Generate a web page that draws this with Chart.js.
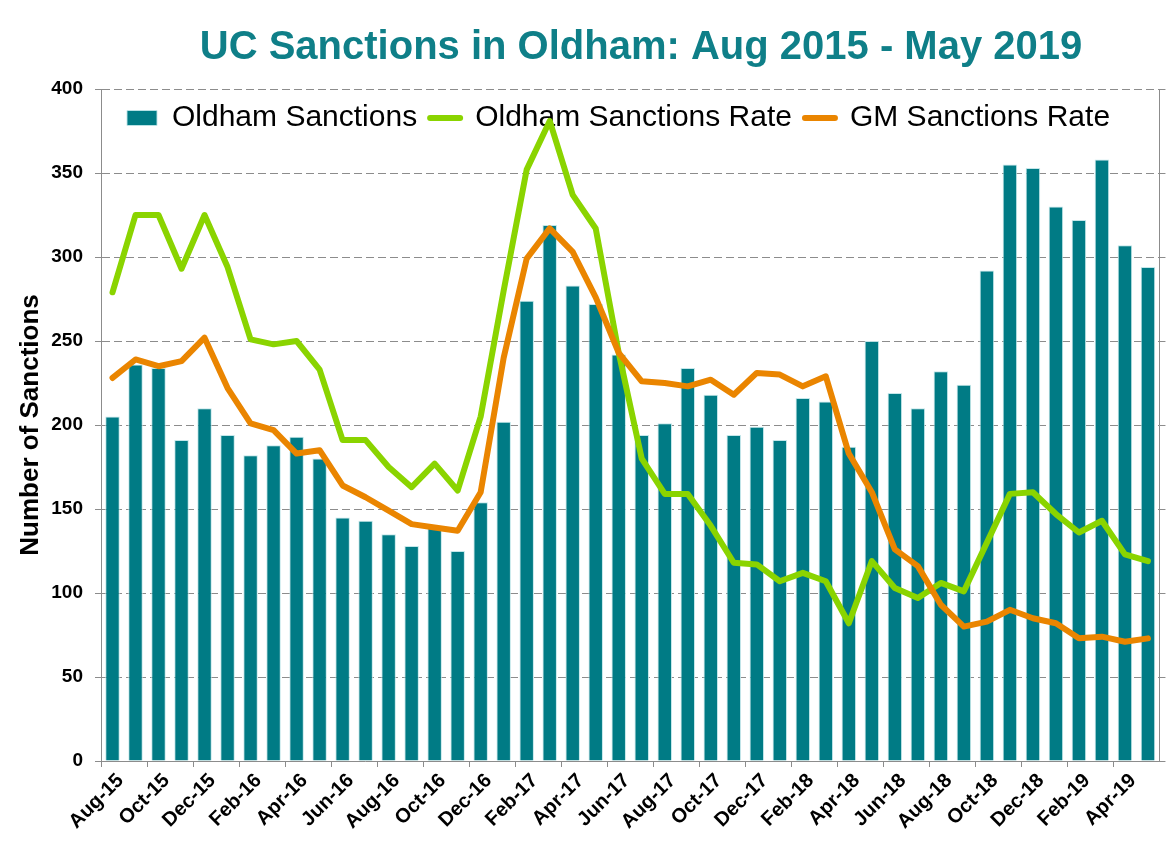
<!DOCTYPE html>
<html>
<head>
<meta charset="utf-8">
<title>UC Sanctions in Oldham</title>
<script src="https://cdn.jsdelivr.net/npm/chart.js@4.4.1/dist/chart.umd.min.js"></script>
<style>
  html, body { margin: 0; padding: 0; background: #fff; }
</style>
</head>
<body>
<canvas id="chart" width="1167" height="854"></canvas>
<script>
// Months, Aug 2015 - May 2019
const months = [
  "Aug-15", "Sep-15", "Oct-15", "Nov-15", "Dec-15",
  "Jan-16", "Feb-16", "Mar-16", "Apr-16", "May-16", "Jun-16", "Jul-16", "Aug-16", "Sep-16", "Oct-16", "Nov-16", "Dec-16",
  "Jan-17", "Feb-17", "Mar-17", "Apr-17", "May-17", "Jun-17", "Jul-17", "Aug-17", "Sep-17", "Oct-17", "Nov-17", "Dec-17",
  "Jan-18", "Feb-18", "Mar-18", "Apr-18", "May-18", "Jun-18", "Jul-18", "Aug-18", "Sep-18", "Oct-18", "Nov-18", "Dec-18",
  "Jan-19", "Feb-19", "Mar-19", "Apr-19", "May-19",
];

const oldhamSanctions = [
  205, 236, 234, 191, 210, 194, 182, 188, 193, 180,
  145, 143, 135, 128, 139, 125, 154, 202, 274, 319,
  283, 272, 242, 194, 201, 234, 218, 194, 199, 191,
  216, 214, 187, 250, 219, 210, 232, 224, 292, 355,
  353, 330, 322, 358, 307, 294,
];

const oldhamRate = [
  279, 325, 325, 293, 325, 294, 251, 248, 250, 233,
  191, 191, 175, 163, 177, 161, 205, 280, 352, 381,
  337, 317, 243, 180, 159, 159, 140, 118, 117, 107,
  112, 107, 82, 119, 103, 97, 106, 101, 130, 159,
  160, 147, 136, 143, 123, 119,
];

const gmRate = [
  228, 239, 235, 238, 252, 222, 201, 197, 183, 185,
  164, 157, 149, 141, 139, 137, 160, 240, 299, 317,
  303, 276, 243, 226, 225, 223, 227, 218, 231, 230,
  223, 229, 183, 160, 126, 116, 93, 80, 83, 90,
  85, 82, 73, 74, 71, 73,
];

const yMin = 0;
const yMax = 400;
const yStep = 50;

const FONT = "'Liberation Sans', Arial, sans-serif";
const TEAL = "#007b85";
const GREEN = "#8ad400";
const ORANGE = "#ea8500";
const GRID = "#8c8c8c";

// Move title and legend into place once the layout is done
const placeBoxes = {
  id: "placeBoxes",
  afterLayout(chart) {
    const t = chart.titleBlock;
    const dx = 641 - (t.left + t.right) / 2;
    t.left += dx;
    t.right += dx;

    const lg = chart.legend;
    const pad = lg.options.labels.padding;
    lg.left = 127 - pad;
    lg.right = lg.left + 1100;
    lg.top = 118 - 15 - pad;
    lg.bottom = lg.top + 60;
  },
};

const ctx = document.getElementById("chart").getContext("2d");

new Chart(ctx, {
  type: "bar",
  data: {
    labels: months,
    datasets: [
      {
        type: "bar",
        label: "Oldham Sanctions",
        data: oldhamSanctions,
        backgroundColor: TEAL,
        borderColor: "rgba(190, 228, 232, 0.9)",
        borderWidth: 1,
        barPercentage: 0.63,
        categoryPercentage: 1,
        pointStyle: "rect",
        order: 3,
      },
      {
        type: "line",
        label: "Oldham Sanctions Rate",
        data: oldhamRate,
        borderColor: GREEN,
        backgroundColor: GREEN,
        borderWidth: 6,
        borderJoinStyle: "round",
        borderCapStyle: "round",
        tension: 0,
        pointRadius: 0,
        pointStyle: "line",
        pointBorderColor: GREEN,
        pointBorderWidth: 6,
        order: 2,
      },
      {
        type: "line",
        label: "GM Sanctions Rate",
        data: gmRate,
        borderColor: ORANGE,
        backgroundColor: ORANGE,
        borderWidth: 6,
        borderJoinStyle: "round",
        borderCapStyle: "round",
        tension: 0,
        pointRadius: 0,
        pointStyle: "line",
        pointBorderColor: ORANGE,
        pointBorderWidth: 6,
        order: 1,
      },
    ],
  },
  options: {
    responsive: false,
    animation: false,
    layout: { padding: { top: 0, left: 0, right: 0, bottom: 0 } },
    scales: {
      x: {
        offset: true,
        afterFit: (s) => { s.height = 93; },
        grid: {
          offset: true,
          drawOnChartArea: false,
          drawTicks: true,
          tickLength: 6,
          color: (c) => (c.index % 2 === 0 ? GRID : "rgba(0,0,0,0)"),
        },
        border: { color: GRID, width: 1 },
        ticks: {
          autoSkip: false,
          maxRotation: 45,
          minRotation: 45,
          padding: 2,
          labelOffset: 8,
          color: "#000",
          font: { family: FONT, size: 20, weight: "bold" },
          callback: (v, i) => (i % 2 === 0 ? months[i] : ""),
        },
      },
      y: {
        min: yMin,
        max: yMax,
        afterFit: (s) => { s.width = 101; },
        ticks: {
          stepSize: yStep,
          padding: 12,
          color: "#000",
          font: { family: FONT, size: 19, weight: "bold" },
        },
        grid: {
          color: GRID,
          lineWidth: 1,
          tickLength: 6,
          tickBorderDash: [],
        },
        border: { color: GRID, width: 1, dash: [8, 4] },
        title: {
          display: true,
          text: "Number of Sanctions",
          color: "#000",
          font: { family: FONT, size: 26, weight: "bold" },
          padding: { top: 15, bottom: 0 },
        },
      },
      y1: {
        position: "right",
        min: yMin,
        max: yMax,
        afterFit: (s) => { s.width = 7; },
        ticks: { stepSize: yStep, display: false },
        grid: { drawOnChartArea: false, color: GRID, tickLength: 6 },
        border: { color: GRID, width: 1 },
      },
    },
    plugins: {
      title: {
        display: true,
        text: "UC Sanctions in Oldham: Aug 2015 - May 2019",
        color: "#0f7f88",
        font: { family: FONT, size: 40, weight: "bold", lineHeight: 1.2 },
        padding: { top: 24, bottom: 16 },
      },
      legend: {
        display: true,
        position: "top",
        align: "start",
        maxHeight: 1,
        labels: {
          usePointStyle: true,
          pointStyleWidth: 30,
          boxHeight: 15,
          padding: 13,
          color: "#000",
          font: { family: FONT, size: 30 },
          sort: (a, b) => a.datasetIndex - b.datasetIndex,
          generateLabels: (chart) =>
            Chart.defaults.plugins.legend.labels.generateLabels(chart).map((item) => ({
              ...item,
              lineCap: item.pointStyle === "line" ? "round" : "butt",
            })),
        },
      },
      tooltip: { enabled: false },
    },
  },
  plugins: [placeBoxes],
});
</script>
</body>
</html>
